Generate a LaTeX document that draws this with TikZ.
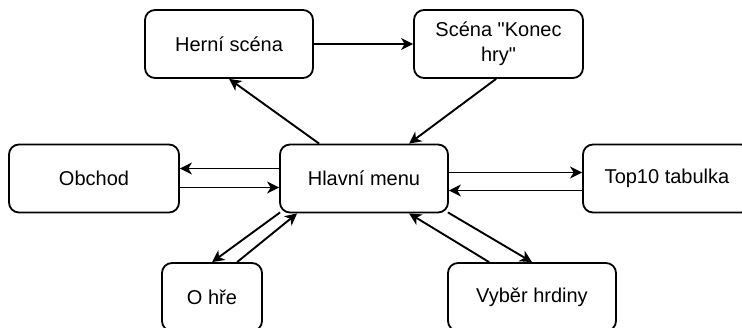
\documentclass[tikz,border=0pt]{standalone}
\usepackage{fontspec}
\setmainfont{Liberation Sans}[Ligatures=TeXOff]
\usetikzlibrary{arrows.meta,calc}
\begin{document}
\begin{tikzpicture}[x=1pt,y=1pt,
  box/.style={draw=black,line width=1.8pt,rounded corners=10pt,fill=white,
    minimum height=68pt,inner sep=0pt,align=center,
    font=\fontsize{20}{25}\selectfont},
  conn/.style={line width=1.9pt,-{Stealth[length=12pt,width=12pt,inset=3.5pt]}}]
\useasboundingbox (0,0) rectangle (742,-327);
\node[box,minimum width=168pt] (hs) at (229,-44) {Herní scéna};
\node[box,minimum width=169pt] (sk) at (498.5,-44) {Scéna "Konec\\hry"};
\node[box,minimum width=170pt] (ob) at (94,-178.5) {Obchod};
\node[box,minimum width=168pt] (hm) at (364,-178.5) {Hlavní menu};
\node[box,minimum width=168pt] (tt) at (667,-178.5) {Top10 tabulka};
\node[box,minimum width=100pt] (oh) at (212,-297) {O hře};
\node[box,minimum width=168pt] (vh) at (532,-297) {Vyběr hrdiny};
\draw[conn] (hs.east) -- (sk.west);
\draw[conn] ([xshift=40pt]hm.north west) -- ([xshift=85pt]hs.south west);
\draw[conn] ([xshift=83pt]sk.south west) -- ([xshift=130pt]hm.north west);
\draw[conn] ([yshift=10pt]hm.west) -- ([yshift=10pt]ob.east);
\draw[conn] ([yshift=-9pt]ob.east) -- ([yshift=-9pt]hm.west);
\draw[conn] ([yshift=6pt]hm.east) -- ([yshift=6pt]tt.west);
\draw[conn] ([yshift=-12pt]tt.west) -- ([yshift=-12pt]hm.east);
\draw[conn] ([xshift=1pt,yshift=1pt]hm.south west) -- ([xshift=51pt]oh.north west);
\draw[conn] ([xshift=76pt]oh.north west) -- ([xshift=18pt]hm.south west);
\draw[conn] ([xshift=42pt]vh.north west) -- ([xshift=130pt]hm.south west);
\draw[conn] ([xshift=-1pt,yshift=1pt]hm.south east) -- (vh.north);
\end{tikzpicture}
\end{document}
